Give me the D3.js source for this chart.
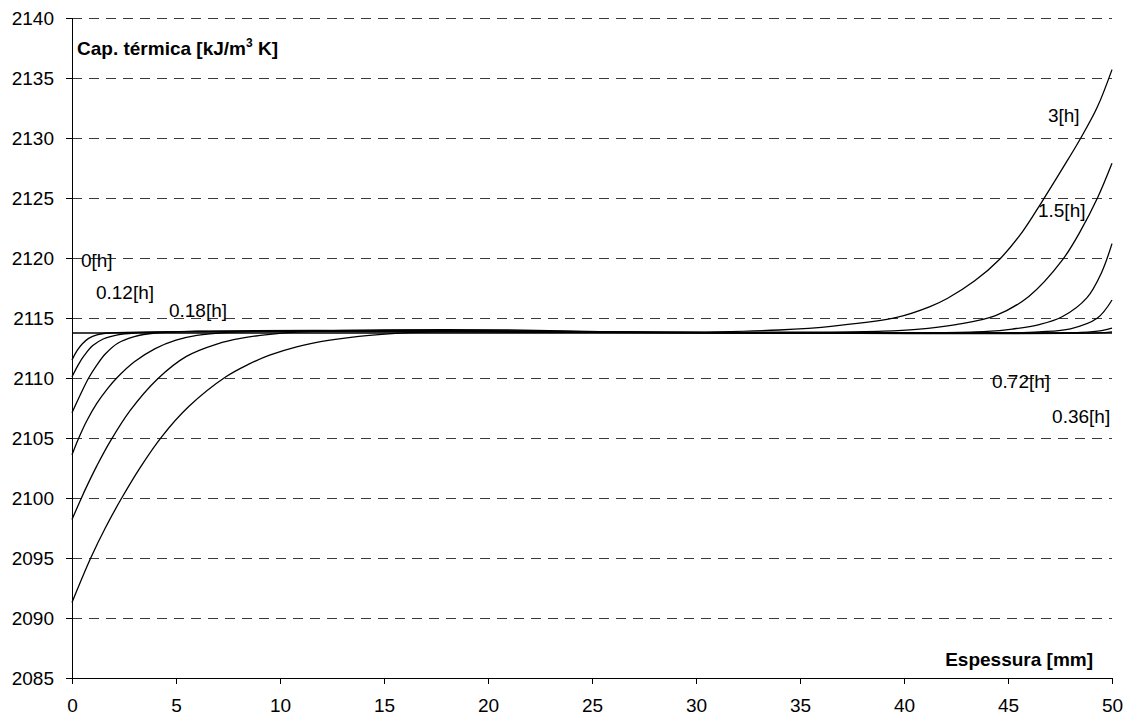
<!DOCTYPE html>
<html>
<head>
<meta charset="utf-8">
<script src="https://cdn.jsdelivr.net/npm/d3@7"></script>
<style>
  html, body { margin: 0; padding: 0; background: #fff; }
  svg { display: block; }
  text { font-family: "Liberation Sans", Arial, sans-serif; fill: #000; }
</style>
</head>
<body>
<svg id="chart" width="1133" height="718"></svg>
<script>
// Heat capacity profiles across the thickness, one per elapsed time.
const xTicks = [0, 5, 10, 15, 20, 25, 30, 35, 40, 45, 50];
const yTicks = [2085, 2090, 2095, 2100, 2105, 2110, 2115, 2120, 2125, 2130, 2135, 2140];

// [thickness mm, capacity kJ/m3K]
const h0 = [[0, 2113.75], [50, 2113.75]];
const h012 = [[0, 2111.5], [0.25, 2112.3], [0.5, 2112.85], [0.8, 2113.3], [1.2, 2113.6], [1.8, 2113.75],
  [5, 2113.85], [20, 2113.85], [30, 2113.78], [49.3, 2113.76], [50, 2113.85]];
const h018 = [[0, 2110.1], [0.3, 2111.1], [0.6, 2111.9], [1, 2112.7], [1.5, 2113.25], [2.2, 2113.6], [3, 2113.75],
  [6, 2113.88], [14, 2113.9], [24, 2113.8], [47, 2113.76], [48.5, 2113.8], [49.5, 2113.95], [50, 2114.15]];
const h036 = [[0, 2107.1], [0.4, 2108.6], [0.8, 2110], [1.2, 2111.1], [1.6, 2112.0], [2.2, 2112.9], [3, 2113.45],
  [4, 2113.75], [6, 2113.9], [16, 2113.95], [25, 2113.8], [45, 2113.76], [46.5, 2113.85], [48, 2114.1],
  [49.3, 2115.0], [50, 2116.5]];
const h072 = [[0, 2103.6], [0.3, 2104.9], [0.7, 2106.4], [1.2, 2107.9], [1.7, 2109.1], [2.15, 2110], [3, 2111.35],
  [4, 2112.45], [5, 2113.15], [6, 2113.55], [7.5, 2113.8], [10, 2113.92], [20, 2113.95], [28, 2113.8],
  [42, 2113.78], [44, 2113.88], [45.2, 2114.08], [46.5, 2114.45], [47.6, 2115.1], [48.8, 2116.7],
  [49.5, 2118.8], [50, 2121.2]];
const h15 = [[0, 2098.2], [0.4, 2099.8], [0.8, 2101.3], [1.2, 2102.7], [1.83, 2104.7], [2.8, 2107.3], [4.1, 2109.9],
  [5.5, 2111.8], [7, 2112.85], [8.1, 2113.3], [9.4, 2113.62], [11, 2113.85], [15, 2114.0], [21, 2114.0],
  [26, 2113.85], [36, 2113.82], [39, 2113.9], [40.6, 2114.05], [42.5, 2114.45], [44.4, 2115.2], [46, 2116.8],
  [47.6, 2119.8], [48.5, 2122.3], [49.3, 2125], [50, 2127.9]];
const h3 = [[0, 2091.3], [0.9, 2095.0], [1.6, 2097.5], [2.39, 2100.0], [3.3, 2102.6], [4.31, 2105.1], [5.6, 2107.6],
  [7.4, 2110.1], [8.5, 2111.15], [9.5, 2111.9], [10.8, 2112.6], [12.4, 2113.15], [14.3, 2113.55], [17, 2113.82],
  [21, 2113.9], [28, 2113.82], [31, 2113.85], [34, 2114.0], [36.6, 2114.33], [39.65, 2115.05], [41.25, 2115.95],
  [42.1, 2116.65], [43.4, 2118.1], [44.6, 2119.9], [45.7, 2122.2], [46.6, 2124.6], [47.6, 2127.4], [48.5, 2130],
  [49.3, 2132.6], [50, 2135.7]];

const seriesData = [h0, h012, h018, h036, h072, h15, h3];

// label text with its anchor point in data units
const labelText = ["0[h]", "0.12[h]", "0.18[h]", "0.36[h]", "0.72[h]", "1.5[h]", "3[h]"];
const labelX = [0.43, 1.15, 4.66, 47.12, 44.23, 46.44, 46.92];
const labelY = [2119.25, 2116.58, 2115.08, 2106.25, 2109.17, 2123.42, 2131.33];

const svg = d3.select("#chart");
const margin = { left: 72, right: 21, top: 18, bottom: 40 };
const W = 1133, H = 718;

const x = d3.scaleLinear().domain([0, 50]).range([margin.left, W - margin.right]);
const y = d3.scaleLinear().domain([2085, 2140]).range([H - margin.bottom, margin.top]);

// dashed horizontal gridlines
svg.append("g")
  .selectAll("line")
  .data(yTicks.filter(v => v > 2085))
  .join("line")
  .attr("x1", x(0)).attr("x2", x(50))
  .attr("y1", d => y(d)).attr("y2", d => y(d))
  .attr("stroke", "#3a3a3a")
  .attr("stroke-width", 1)
  .attr("stroke-dasharray", "10,7")
  .attr("shape-rendering", "crispEdges");

// y axis
const yAxis = svg.append("g")
  .attr("transform", `translate(${x(0)},0)`)
  .call(d3.axisLeft(y).tickValues(yTicks).tickSize(6).tickPadding(12).tickFormat(d3.format("d")));

// x axis
const xAxis = svg.append("g")
  .attr("transform", `translate(0,${y(2085)})`)
  .call(d3.axisBottom(x).tickValues(xTicks).tickSize(6).tickPadding(15).tickFormat(d3.format("d")));

[yAxis, xAxis].forEach(g => {
  g.select(".domain").attr("stroke", "#000").attr("stroke-width", 1.3);
  g.selectAll(".tick line").attr("stroke", "#000").attr("stroke-width", 1);
  g.selectAll(".tick text")
    .attr("font-family", "'Liberation Sans', Arial, sans-serif")
    .attr("font-size", 19)
    .attr("fill", "#000");
});
svg.selectAll(".domain, .tick line").attr("shape-rendering", "crispEdges");

// profile curves
const line = d3.line()
  .x(d => x(d[0]))
  .y(d => y(d[1]))
  .curve(d3.curveCatmullRom.alpha(0.5));

svg.append("g")
  .selectAll("path")
  .data(seriesData)
  .join("path")
  .attr("d", line)
  .attr("fill", "none")
  .attr("stroke", "#000")
  .attr("stroke-width", 1.3);

// series labels
svg.append("g")
  .selectAll("text")
  .data(labelText)
  .join("text")
  .attr("x", (d, i) => x(labelX[i]))
  .attr("y", (d, i) => y(labelY[i]))
  .attr("font-size", 19)
  .text(d => d);

// axis titles
const yTitle = svg.append("text")
  .attr("x", x(0) + 5)
  .attr("y", 55)
  .attr("font-size", 19)
  .attr("font-weight", "bold");
yTitle.append("tspan").text("Cap. térmica [kJ/m");
yTitle.append("tspan").attr("font-size", 12).attr("dy", -8).text("3");
yTitle.append("tspan").attr("dy", 8).text(" K]");

svg.append("text")
  .attr("x", x(50) - 19)
  .attr("y", y(2085) - 12)
  .attr("text-anchor", "end")
  .attr("font-size", 19)
  .attr("font-weight", "bold")
  .text("Espessura [mm]");
</script>
</body>
</html>
